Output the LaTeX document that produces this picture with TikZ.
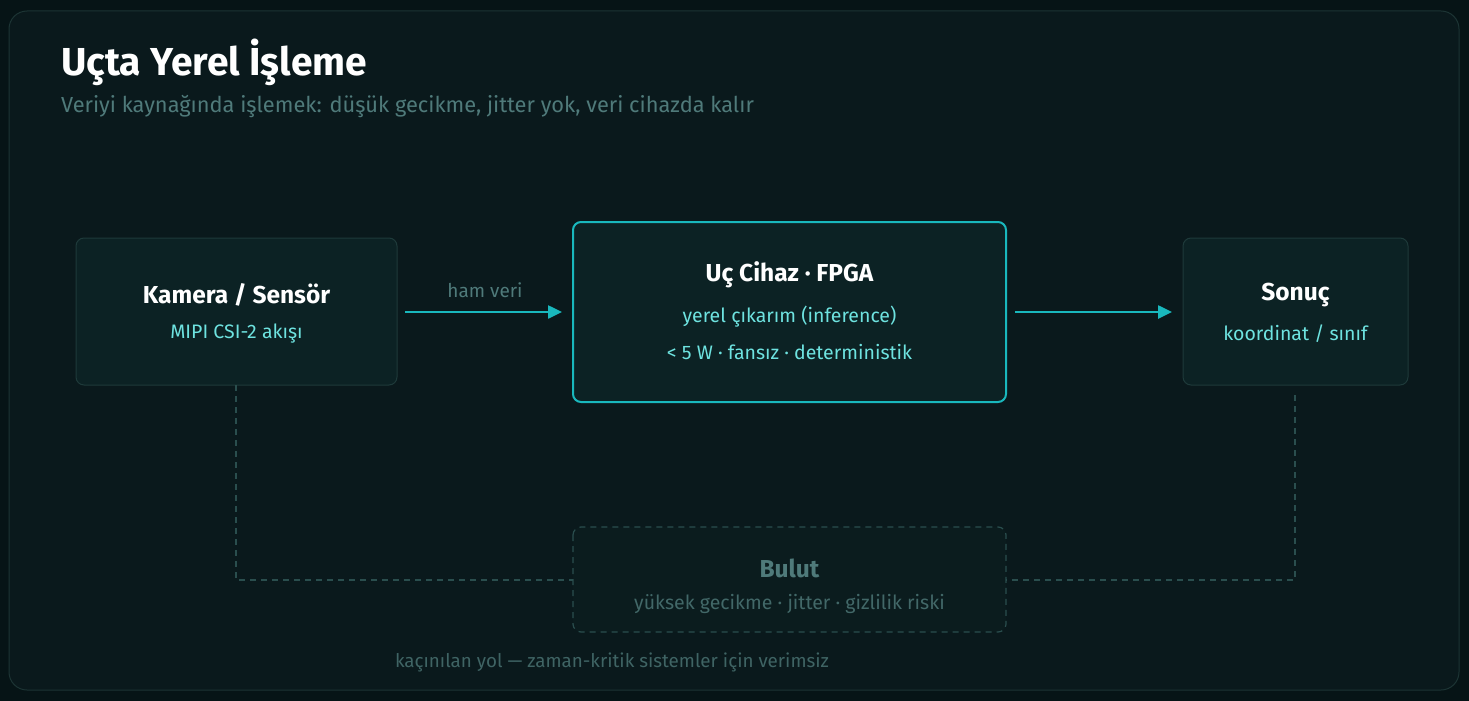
\documentclass[tikz,border=0pt]{standalone}
\usepackage{fontspec}
\setmainfont{Fira Sans}
\usetikzlibrary{arrows.meta}
\definecolor{bgdark}{HTML}{061416}
\definecolor{cardbg}{HTML}{0A191C}
\definecolor{cardline}{HTML}{1C3434}
\definecolor{boxbg}{HTML}{0C2224}
\definecolor{boxline}{HTML}{1E3A3A}
\definecolor{accent}{HTML}{19B8BD}
\definecolor{subcyan}{HTML}{6EE3E0}
\definecolor{muted}{HTML}{4F7A7A}
\definecolor{faint}{HTML}{3F6464}
\definecolor{dashline}{HTML}{2A4E4E}
\tikzset{
  box/.style={draw=boxline, fill=boxbg, rounded corners=8pt, line width=1pt},
  mainbox/.style={draw=accent, fill=boxbg, rounded corners=8pt, line width=2pt},
  cloudbox/.style={draw=dashline, fill=cardbg!70!boxbg, rounded corners=8pt, line width=1.2pt, dash pattern=on 6pt off 5pt},
  flow/.style={draw=accent, line width=2.5pt, -{Triangle[length=14pt,width=13pt]}},
  avoid/.style={draw=dashline, line width=1.5pt, dash pattern=on 6pt off 5pt},
  boxtitle/.style={text=white, font=\fontsize{24.5}{28}\selectfont\bfseries},
  boxsub/.style={text=subcyan, font=\fontsize{19.5}{22}\selectfont}
}
\begin{document}
\begin{tikzpicture}[x=1pt,y=-1pt]
	\fill[bgdark] (0,0) rectangle (1469,701);
	\useasboundingbox (0,0) rectangle (1469,701);
	\draw[cardline, fill=cardbg, line width=1pt, rounded corners=18pt] (9,11) rectangle (1459,690);
	
	\node[anchor=base west, inner sep=0pt, text=white, font=\fontsize{39}{44}\selectfont\bfseries] (title) at (61,75) {Uçta Yerel İşleme};
	\node[anchor=base west, inner sep=0pt, text=muted, font=\fontsize{21.8}{26}\selectfont] (subtitle) at (61,112) {Veriyi kaynağında işlemek: düşük gecikme, jitter yok, veri cihazda kalır};
	
	% kutular
	\draw[box] (76,238) rectangle (397,385);
	\node[boxtitle] (camT) at (236.5,295) {Kamera / Sensör};
	\node[boxsub] (camS) at (236.5,334) {MIPI CSI-2 akışı};
	\coordinate (camR) at (405,312);
	\coordinate (camB) at (236,385);
	
	\draw[mainbox] (573,222) rectangle (1006,402);
	\node[boxtitle] (fpgaT) at (789.5,275) {Uç Cihaz · FPGA};
	\node[boxsub] (fpgaS1) at (789.5,317) {yerel çıkarım (inference)};
	\node[boxsub] (fpgaS2) at (789.5,352) {< 5 W · fansız · deterministik};
	\coordinate (fpgaL) at (562,312);
	\coordinate (fpgaR) at (1015,312);
	
	\draw[box] (1183,238) rectangle (1408,385);
	\node[boxtitle] (resT) at (1295.5,295) {Sonuç};
	\node[boxsub] (resS) at (1295.5,334) {koordinat / sınıf};
	\coordinate (resL) at (1172,312);
	\coordinate (resB) at (1295,395);
	
	\draw[cloudbox] (573,527) rectangle (1006,632);
	\node[text=muted, font=\fontsize{24.5}{28}\selectfont\bfseries] (cloudT) at (789.5,568) {Bulut};
	\node[text=faint!80!muted, font=\fontsize{19.5}{22}\selectfont] (cloudS) at (789.5,604) {yüksek gecikme · jitter · gizlilik riski};
	\coordinate (cloudL) at (573,580);
	\coordinate (cloudR) at (1006,580);
	
	% oklar
	\draw[flow] (camR) -- (fpgaL);
	\node[text=muted, font=\fontsize{19}{22}\selectfont] (hamveri) at (485,290) {ham veri};
	\draw[flow] (fpgaR) -- (resL);
	
	\draw[avoid] (camB) |- (cloudL);
	\draw[avoid] (resB) |- (cloudR);
	\node[text=faint, font=\fontsize{18.8}{22}\selectfont] (footer) at (612,662) {kaçınılan yol — zaman-kritik sistemler için verimsiz};
\end{tikzpicture}
\end{document}
